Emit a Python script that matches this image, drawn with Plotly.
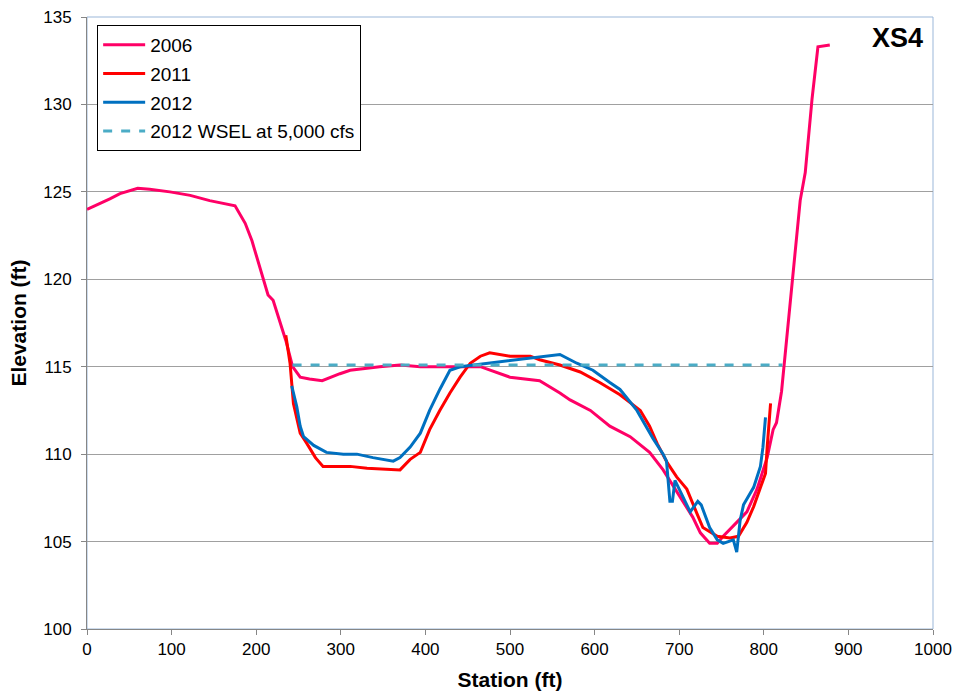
import plotly.graph_objects as go

# 2006 survey
x2006 = [0, 9.5, 27, 39, 60, 74, 98, 122, 145, 175, 181, 187, 195, 204, 214, 220, 228, 235, 243,
         252, 263, 278, 299, 311, 346, 370, 394, 417, 465, 500, 535, 559, 571, 595, 618, 642,
         665, 681, 716, 725, 736, 745, 752, 768, 780, 792, 804, 811, 815, 821, 843, 849, 857,
         864, 878]
y2006 = [124.0, 124.2, 124.6, 124.9, 125.2, 125.15, 125.0, 124.8, 124.5, 124.2, 123.7, 123.2, 122.2,
         120.8, 119.1, 118.8, 117.6, 116.5, 115.0,
         114.4, 114.3, 114.2, 114.6, 114.8, 115.0, 115.1, 115.0, 115.0, 115.0, 114.4, 114.2, 113.5,
         113.1, 112.5, 111.6, 111.0, 110.1, 109.1, 106.4, 105.5, 104.9, 104.9, 105.3, 106.1, 106.7,
         108.0, 109.8, 111.4, 111.8, 113.6, 124.5, 126.1, 130.3, 133.3, 133.4]

# 2011 survey
x2011 = [235, 240, 244, 252, 260, 270, 279, 311, 331, 362, 370, 382, 394, 405, 417, 429, 441, 453,
         465, 476, 500, 524, 535, 559, 583, 606, 630, 654, 665, 674, 686, 697, 709, 721, 728, 745,
         760, 770, 780, 788, 796, 802, 804, 808]
y2011 = [116.8, 115.2, 112.9, 111.2, 110.6, 109.8, 109.3, 109.3, 109.2, 109.1, 109.1, 109.7, 110.1,
         111.4, 112.5, 113.5, 114.4, 115.2, 115.6, 115.8, 115.6, 115.6, 115.4, 115.1, 114.7, 114.1,
         113.4, 112.5, 111.6, 110.6, 109.5, 108.7, 108.0, 106.6, 105.8, 105.3, 105.2, 105.3, 106.1,
         107.0, 108.1, 108.9, 110.4, 112.9]

# 2012 survey
x2012 = [242, 248, 252, 256, 268, 283, 303, 319, 338, 362, 370, 382, 394, 405, 417, 429, 441, 559,
         579, 598, 618, 630, 650, 669, 681, 685, 689, 692, 695, 713, 722, 726, 736, 745, 752, 764,
         768, 772, 776, 781, 788, 796, 799, 802]
y2012 = [113.9, 112.7, 111.6, 111.0, 110.5, 110.1, 110.0, 110.0, 109.8, 109.6, 109.8, 110.4, 111.2,
         112.5, 113.7, 114.8, 115.0, 115.7, 115.2, 114.8, 114.1, 113.7, 112.5, 110.9, 110.0, 109.6,
         107.3, 107.3, 108.5, 106.7, 107.3, 107.1, 105.8, 105.1, 104.9, 105.1, 104.4, 106.2, 107.1,
         107.5, 108.1, 109.3, 110.4, 112.1]

# 2012 water surface elevation
xwsel = [243, 822]
ywsel = [115.1, 115.1]

xticks = list(range(0, 1001, 100))
yticks = list(range(100, 136, 5))

FONT = "Liberation Sans, Arial"

fig = go.Figure()
fig.add_trace(go.Scatter(x=x2006, y=y2006, mode="lines", name="2006", legendgroup="a",
                         line=dict(color="#FF0066", width=3)))
fig.add_trace(go.Scatter(x=x2011, y=y2011, mode="lines", name="2011", legendgroup="b",
                         line=dict(color="#FF0000", width=3)))
fig.add_trace(go.Scatter(x=x2012, y=y2012, mode="lines", name="2012", legendgroup="c",
                         line=dict(color="#0070C0", width=3)))
fig.add_trace(go.Scatter(x=xwsel, y=ywsel, mode="lines", name="2012 WSEL at 5,000 cfs", legendgroup="d",
                         line=dict(color="#4BACC6", width=3, dash="dash")))

fig.add_shape(type="rect", xref="paper", yref="paper", x0=0, y0=0, x1=1, y1=1,
              line=dict(color="#9BB7D9", width=1), layer="below")

fig.add_annotation(text="<b>XS4</b>", xref="paper", yref="paper", x=0.99, y=0.993,
                   xanchor="right", yanchor="top", showarrow=False,
                   font=dict(family=FONT, size=27, color="black"))

fig.update_layout(
    width=953, height=692,
    margin=dict(l=87, r=20, t=17, b=63),
    paper_bgcolor="white", plot_bgcolor="white",
    font=dict(family=FONT, size=17, color="black"),
    showlegend=True,
    legend=dict(x=0.012, y=0.987, xanchor="left", yanchor="top",
                bordercolor="black", borderwidth=1, bgcolor="white",
                font=dict(size=19), tracegroupgap=1, itemwidth=42),
    xaxis=dict(range=[0, 1000], tickvals=xticks, showgrid=False, zeroline=False,
               showline=True, linecolor="#868686", linewidth=1, automargin=False,
               ticks="outside", tickcolor="#868686", ticklen=5, ticklabeloverflow="allow",
               title=dict(text="<b>Station (ft)</b>", font=dict(size=21), standoff=13)),
    yaxis=dict(range=[100, 135], tickvals=yticks, showgrid=True, gridcolor="#A0A0A0", gridwidth=1,
               zeroline=False, showline=True, linecolor="#868686", linewidth=1, automargin=False,
               ticks="outside", tickcolor="#868686", ticklen=5, ticklabeloverflow="allow",
               ticklabelstandoff=6,
               title=dict(text="<b>Elevation (ft)</b>", font=dict(size=21), standoff=10)),
)

fig.write_html("out.html", config={"displayModeBar": False},
               post_script="document.body.style.margin='0px';document.body.style.overflow='hidden';")
